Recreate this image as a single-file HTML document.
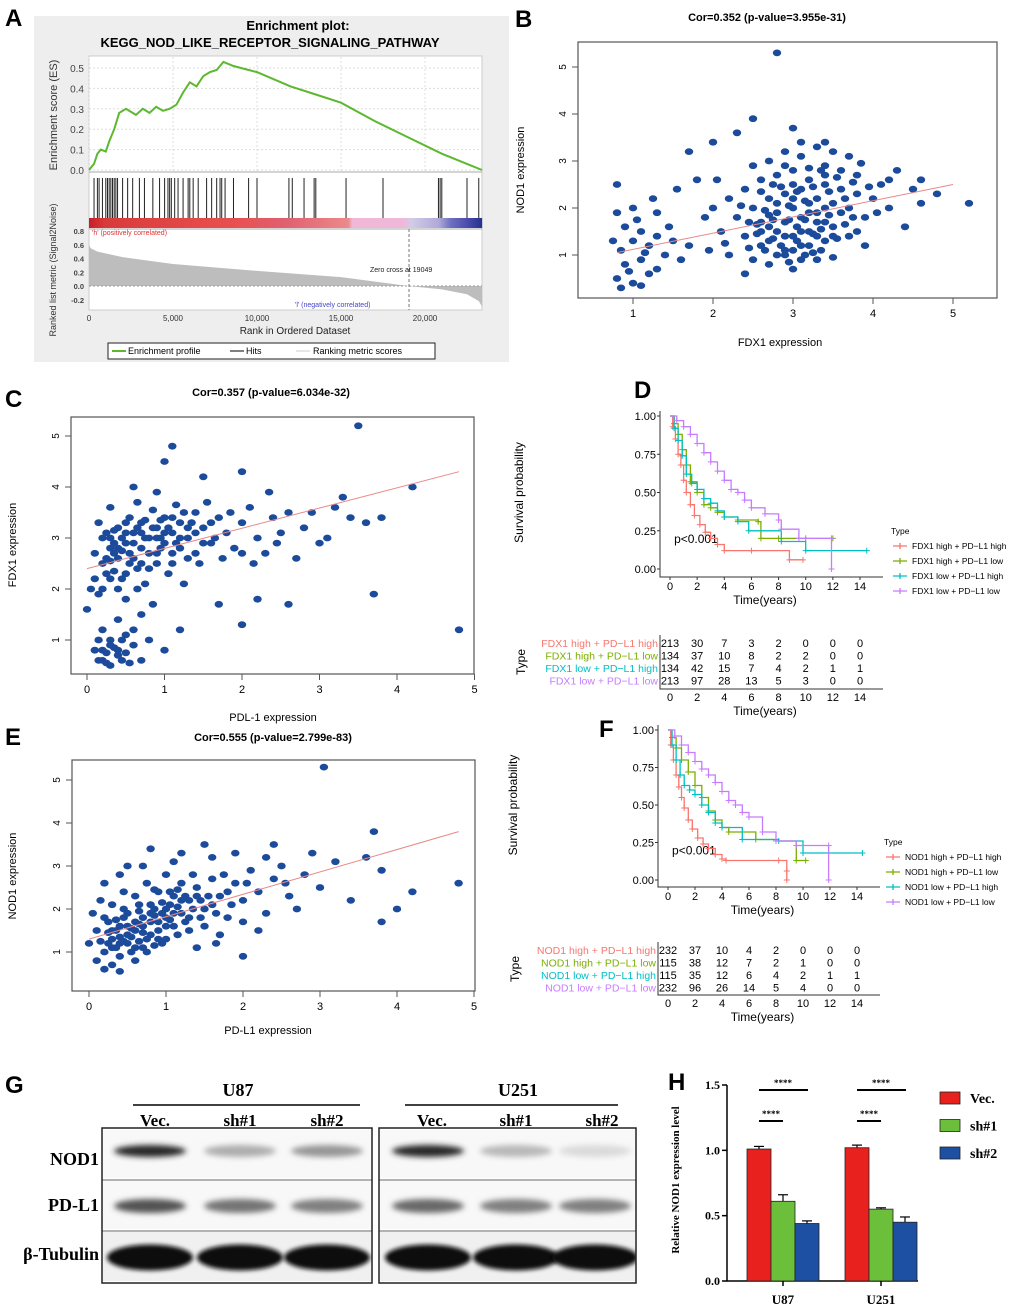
<!DOCTYPE html>
<html><head><meta charset="utf-8"><style>
html,body{margin:0;padding:0;background:#fff}
svg{display:block;font-family:"Liberation Sans",Arial,sans-serif}
.s{font-family:"Liberation Serif",serif;font-weight:bold}
</style></head><body>
<svg id="fig" width="1020" height="1309" viewBox="0 0 1020 1309" xmlns="http://www.w3.org/2000/svg">
<defs>
<filter id="blur2" x="-20%" y="-50%" width="140%" height="200%"><feGaussianBlur stdDeviation="2"/></filter>
<filter id="blur3" x="-20%" y="-80%" width="140%" height="260%"><feGaussianBlur stdDeviation="3"/></filter>
<clipPath id="clipU87"><rect x="102" y="1128" width="270" height="155"/></clipPath>
<clipPath id="clipU251"><rect x="379" y="1128" width="257" height="155"/></clipPath>
<linearGradient id="rankbar" x1="0" x2="1" y1="0" y2="0">
<stop offset="0" stop-color="#c81e2a"/><stop offset="0.04" stop-color="#d83a3a"/><stop offset="0.37" stop-color="#e85050"/><stop offset="0.5" stop-color="#e06070"/><stop offset="0.66" stop-color="#ec8a8a"/><stop offset="0.67" stop-color="#f0b8d6"/><stop offset="0.8" stop-color="#f0b8d8"/><stop offset="0.82" stop-color="#d0cce8"/><stop offset="0.89" stop-color="#b0a8d8"/><stop offset="0.92" stop-color="#6f70c0"/><stop offset="0.97" stop-color="#4545a8"/><stop offset="1" stop-color="#23308e"/>
</linearGradient>
</defs>
<g font-weight="bold" font-size="24">
<text x="5" y="26">A</text>
<text x="515" y="27">B</text>
<text x="5" y="407">C</text>
<text x="634" y="398">D</text>
<text x="5" y="745">E</text>
<text x="599" y="737">F</text>
<text x="5" y="1093">G</text>
<text x="668" y="1090">H</text>
</g>
<g id="pA">
<rect x="34" y="16" width="475" height="346" fill="#eeeeee"/>
<text x="298" y="30" text-anchor="middle" font-weight="bold" font-size="13">Enrichment plot:</text>
<text x="270" y="47" text-anchor="middle" font-weight="bold" font-size="13">KEGG_NOD_LIKE_RECEPTOR_SIGNALING_PATHWAY</text>
<rect x="89" y="56" width="393" height="254" fill="#fff" stroke="#ccc"/>
<text transform="translate(57,115) rotate(-90)" text-anchor="middle" font-size="11" fill="#333">Enrichment score (ES)</text>
<text transform="translate(56,270) rotate(-90)" text-anchor="middle" font-size="9" fill="#333">Ranked list metric (Signal2Noise)</text>
<text x="295" y="334" text-anchor="middle" font-size="10" fill="#222">Rank in Ordered Dataset</text>
<text x="92" y="235" font-size="7" fill="#d33">'h' (positively correlated)</text>
<text x="295" y="307" font-size="7" fill="#44c">'l' (negatively correlated)</text>
<text x="370" y="272" font-size="7" fill="#222">Zero cross at 19049</text>
<rect x="108" y="343" width="327" height="16" fill="#fff" stroke="#222"/>
<line x1="112" y1="351" x2="126" y2="351" stroke="#5cb82e" stroke-width="2"/>
<text x="128" y="354" font-size="9">Enrichment profile</text>
<line x1="230" y1="351" x2="244" y2="351" stroke="#555" stroke-width="1.5"/>
<text x="246" y="354" font-size="9">Hits</text>
<line x1="296" y1="351" x2="310" y2="351" stroke="#ddd" stroke-width="1.5"/>
<text x="313" y="354" font-size="9">Ranking metric scores</text>
</g>
<g font-size="11">
<text x="767" y="21" text-anchor="middle" font-weight="bold">Cor=0.352 (p-value=3.955e-31)</text>
<text x="780" y="346" text-anchor="middle">FDX1 expression</text>
<text transform="translate(524,170) rotate(-90)" text-anchor="middle">NOD1 expression</text>
<text x="271" y="396" text-anchor="middle" font-weight="bold">Cor=0.357 (p-value=6.034e-32)</text>
<text x="273" y="721" text-anchor="middle">PDL-1 expression</text>
<text transform="translate(16,545) rotate(-90)" text-anchor="middle">FDX1 expression</text>
<text x="273" y="741" text-anchor="middle" font-weight="bold">Cor=0.555 (p-value=2.799e-83)</text>
<text x="268" y="1034" text-anchor="middle">PD-L1 expression</text>
<text transform="translate(16,876) rotate(-90)" text-anchor="middle">NOD1 expression</text>
</g>
<g id="pB"></g>
<g id="pC"></g>
<g id="pE"></g>
<g id="pD"></g>
<g id="pF"></g>
<g id="pG" class="s">
<text x="238" y="1096" text-anchor="middle" font-size="18">U87</text>
<line x1="133" y1="1105" x2="360" y2="1105" stroke="#000" stroke-width="1.5"/>
<text x="518" y="1096" text-anchor="middle" font-size="18">U251</text>
<line x1="405" y1="1105" x2="618" y2="1105" stroke="#000" stroke-width="1.5"/>
<g font-size="17" text-anchor="middle">
<text x="155" y="1126">Vec.</text>
<text x="240" y="1126">sh#1</text>
<text x="327" y="1126">sh#2</text>
<text x="432" y="1126">Vec.</text>
<text x="516" y="1126">sh#1</text>
<text x="602" y="1126">sh#2</text>
</g>
<g font-size="18" text-anchor="end">
<text x="99" y="1165">NOD1</text>
<text x="99" y="1211">PD-L1</text>
<text x="99" y="1260">β-Tubulin</text>
</g>
</g>
<g id="pH" class="s">
<text transform="translate(679,1180) rotate(-90)" text-anchor="middle" font-size="11">Relative NOD1 expression level</text>
</g>
</svg>
<script>
// ---------- DATA ----------
const gseaRank=[0,0.3,0.5,0.7,1.0,1.2,1.5,1.8,2.2,2.8,3.2,3.6,4.0,4.4,4.8,5.2,5.6,6.0,6.4,6.8,7.2,7.6,8.0,8.6,9.5,10,12,13.5,15,17,19,21,22.5,23.4];
const gseaES=[0,0.03,0.08,0.1,0.09,0.14,0.2,0.28,0.3,0.27,0.3,0.28,0.31,0.29,0.3,0.32,0.38,0.43,0.41,0.46,0.48,0.49,0.53,0.51,0.49,0.48,0.41,0.37,0.33,0.24,0.16,0.08,0.03,0];
const gseaHits=[0.3,0.5,0.6,0.8,1.0,1.1,1.2,1.3,1.4,1.5,1.6,1.7,2.0,2.3,2.6,3.0,3.3,3.8,4.2,4.5,4.7,4.8,4.9,5.1,5.3,5.6,5.9,6.0,6.2,6.5,7.0,7.3,7.6,7.8,7.9,8.1,8.6,9.5,10.0,11.9,12.1,12.8,13.4,13.5,15.3,17.5,20.8,20.9,21.0,22.5,23.2];
const metricRank=[0,0.1,0.5,2,5,10,15,19,21,22.5,23.2,23.4];
const metricVal=[0.6,0.55,0.5,0.42,0.32,0.22,0.13,0.0,-0.05,-0.12,-0.22,-0.3];
const esTicks=[0,0.1,0.2,0.3,0.4,0.5];
const metricTicks=[-0.2,0,0.2,0.4,0.6,0.8];
const rankTicks=[0,5000,10000,15000,20000];

const ptsB=[[0.8,0.5],[0.9,0.8],[1.0,0.4],[1.1,0.9],[0.85,1.1],[1.2,1.2],[1.3,0.7],[1.0,1.3],[0.9,1.6],[1.1,1.5],[1.3,1.4],[1.4,1.0],[1.2,0.6],[0.8,1.9],[1.0,2.0],[1.5,1.3],[1.6,0.9],[1.3,1.9],[0.95,0.65],[1.15,1.05],[0.75,1.3],[1.05,1.75],[1.45,1.6],[1.25,2.2],[0.8,2.5],[1.7,1.2],[1.55,2.4],[0.85,0.3],[1.1,0.35],
[2.2,1.0],[2.4,1.4],[2.5,0.9],[2.6,1.2],[2.7,1.6],[2.8,1.0],[2.9,1.4],[3.0,1.1],[3.1,1.5],[3.2,1.2],[3.3,1.7],[3.4,1.3],[3.5,1.6],[3.6,1.9],[2.3,1.8],[2.5,2.0],[2.6,1.7],[2.7,2.2],[2.8,1.9],[2.9,2.3],[3.0,2.0],[3.1,2.4],[3.2,1.9],[3.3,2.2],[3.4,2.5],[3.5,2.1],[3.6,2.4],[3.7,2.0],[3.8,2.3],[2.4,2.4],[2.6,2.6],[2.8,2.7],[3.0,2.8],[3.2,2.6],[3.4,2.9],[3.6,2.8],[3.8,2.7],[2.7,3.0],[2.9,3.2],[3.1,3.1],[3.3,3.3],[3.5,3.2],[3.7,3.1],[2.5,2.9],[2.2,2.2],[2.1,1.5],[2.0,2.0],[3.9,1.8],[4.0,2.2],[4.1,2.5],[4.2,2.0],[4.3,2.8],[4.5,2.4],[4.4,1.6],[3.9,1.2],[3.8,1.5],[3.7,1.4],[4.6,2.1],[4.8,2.3],[5.2,2.1],[2.0,3.4],[1.8,2.6],[1.7,3.2],[2.3,3.6],[2.5,3.9],[3.0,3.7],[2.8,5.3],[2.4,0.6],[3.0,0.7],[3.3,0.9],[2.95,1.75],[3.15,2.15],[2.85,2.45],[3.05,1.3],[3.25,2.45],[2.75,1.35],[3.45,1.85],[2.65,1.95],[3.55,2.65],[3.35,1.55],[2.55,1.45],[3.65,1.65],[2.45,1.15],[3.75,2.55],[3.85,2.95],[2.35,2.05],[2.15,1.25],[3.95,2.45],[4.05,1.9],[2.05,2.6],[1.9,1.8],[1.95,1.1],
[2.9,1.0],[3.1,0.9],[2.85,1.2],[3.05,1.6],[2.95,2.05],[3.15,1.75],[3.25,1.45],[2.75,1.75],[2.65,1.1],[3.35,1.1],[3.45,2.35],[3.55,1.35],[2.6,2.35],[3.0,2.5],[3.2,2.85],[3.4,2.7],[2.9,2.9],[3.65,2.2],[3.75,1.8],[2.45,1.7],[3.1,3.4],[3.4,3.4],[2.7,0.8],[3.5,0.95],[4.2,2.6],[4.6,2.6],
[2.7,1.3],[2.8,1.5],[2.9,1.7],[3.0,1.4],[3.1,1.2],[3.2,1.5],[3.3,1.4],[2.8,2.1],[3.0,2.2],[3.2,2.1],[3.4,2.0],[2.9,1.1],[3.1,1.8],[3.3,1.9],[2.6,1.5],[3.4,1.7],[2.7,1.85],[3.05,2.35],[3.25,1.05],[2.95,0.85],[3.15,1.0],[2.55,1.65],[3.5,1.4],[2.75,2.5],[3.35,2.8]];
const lineB=[0.8,5.0]; const lineBy=[1.05,2.5];

const ptsC=[[0.0,1.6],[0.1,2.2],[0.1,2.7],[0.2,3.0],[0.2,2.5],[0.3,2.8],[0.3,2.2],[0.4,3.2],[0.4,2.6],[0.5,2.9],[0.5,2.3],[0.6,3.1],[0.6,2.6],[0.7,3.3],[0.7,2.8],[0.8,3.0],[0.8,2.4],[0.9,3.2],[0.9,2.7],[1.0,3.4],[1.0,2.9],[1.1,3.1],[1.1,2.5],[1.2,3.3],[1.2,2.8],[1.3,3.0],[1.4,3.5],[1.4,2.7],[1.5,3.2],[1.6,2.9],[1.7,3.4],[1.8,3.1],[1.9,2.8],[2.0,3.3],[2.1,3.6],[2.2,3.0],[2.3,2.7],[2.4,3.4],[2.5,3.1],[2.6,3.5],[2.8,3.2],[3.0,2.9],[3.2,3.6],[3.4,3.4],[3.6,3.3],[3.8,3.4],[4.2,4.0],[3.5,5.2],[3.7,1.9],[4.8,1.2],[3.3,3.8],[2.0,4.3],[1.1,4.8],[0.6,4.0],[0.3,3.6],[0.9,3.9],[1.5,4.2],[1.0,4.5],[0.5,1.8],[0.2,1.2],[0.1,0.8],[0.2,0.6],[0.3,1.0],[0.4,0.7],[0.5,1.1],[0.4,1.4],[0.6,0.9],[0.7,0.6],[0.8,1.0],[0.3,0.5],[0.15,1.0],[0.55,0.55],[0.45,1.0],[1.0,0.8],[1.2,1.2],[0.85,3.55],[0.65,2.0],[0.35,2.35],[0.15,3.3],[0.05,2.0],[1.25,2.1],[1.05,2.3],[0.75,2.1],[1.15,3.65],[0.95,3.0],[0.45,2.75],[0.25,2.6],[0.55,3.4],[1.35,3.3],[1.45,2.5],[1.65,3.0],[1.75,2.6],[1.85,3.5],[2.15,2.5],[2.45,2.9],[2.7,2.6],[2.9,3.5],[3.1,3.0],[0.7,1.5],[0.85,1.7],[0.15,1.9],[0.65,3.7],[0.35,3.15],[1.55,3.7],[2.35,3.9],
[0.25,3.1],[0.35,2.9],[0.45,3.0],[0.55,2.7],[0.65,3.2],[0.75,3.0],[0.85,3.2],[0.95,2.8],[1.05,3.2],[1.15,2.9],[1.25,3.5],[0.3,2.55],[0.5,3.3],[0.7,2.5],[0.9,2.5],[1.1,3.4],[0.4,2.0],[0.2,2.0],[0.25,0.75],[0.35,0.85],[0.45,0.6],[0.15,0.6],[0.6,1.2],[1.6,3.3],[1.3,2.6],[2.0,2.7],[2.2,1.8],[1.7,1.7],[2.0,1.3],[2.6,1.7],
[0.3,3.0],[0.4,2.8],[0.5,3.1],[0.6,2.9],[0.7,3.1],[0.8,2.7],[0.9,3.0],[1.0,3.1],[1.1,2.7],[1.2,3.0],[0.35,2.7],[0.55,2.5],[0.75,3.35],[0.95,3.35],[1.3,3.2],[0.25,2.3],[0.45,2.2],[0.65,2.4],[0.2,0.8],[0.3,0.9],[0.4,0.8],[0.5,0.75],[0.25,0.55],[1.4,3.1],[1.5,2.9]];
const lineC=[0,4.8]; const lineCy=[2.4,4.3];

const ptsE=[[0.0,1.2],[0.1,1.5],[0.2,1.0],[0.2,1.8],[0.3,1.3],[0.3,2.1],[0.4,1.6],[0.4,0.9],[0.5,1.9],[0.5,1.2],[0.6,2.3],[0.6,1.5],[0.7,1.8],[0.7,1.1],[0.8,2.1],[0.8,1.4],[0.9,2.4],[0.9,1.7],[1.0,2.0],[1.0,1.3],[1.1,2.3],[1.1,1.6],[1.2,2.6],[1.2,1.9],[1.3,2.2],[1.3,1.5],[1.4,2.5],[1.5,2.0],[1.6,2.7],[1.7,2.3],[1.8,1.8],[1.9,2.6],[2.0,2.2],[2.1,2.9],[2.2,2.4],[2.3,1.9],[2.4,2.7],[2.5,3.0],[2.6,2.3],[2.8,2.8],[3.0,2.5],[3.2,3.1],[3.4,2.2],[3.6,3.2],[3.8,2.9],[4.2,2.4],[4.8,2.6],[4.0,2.0],[3.05,5.3],[3.7,3.8],[3.8,1.7],[0.5,3.0],[0.8,3.4],[1.1,3.1],[1.5,3.5],[1.9,3.3],[2.3,3.2],[0.2,2.6],[0.1,0.8],[0.3,0.7],[0.6,0.8],[1.4,1.1],[1.7,1.4],[0.15,2.2],[0.35,1.75],[0.45,2.4],[0.55,1.55],[0.65,1.95],[0.75,2.6],[0.85,1.85],[0.95,2.15],[1.05,1.75],[1.15,2.45],[1.25,1.7],[1.35,2.8],[1.45,1.8],[1.55,2.3],[1.65,1.9],[1.75,2.8],[0.25,1.45],[0.45,1.25],[0.65,1.25],[0.85,1.15],[1.0,2.8],[1.2,3.3],[2.0,1.7],[2.2,1.5],[2.7,2.0],[2.9,3.3],[0.4,2.8],[0.05,1.9],[2.05,2.6],[2.55,2.6],[1.85,2.1],[0.7,3.0],[1.6,3.2],[2.4,3.5],
[0.3,1.1],[0.4,1.35],[0.5,1.6],[0.6,1.1],[0.7,1.45],[0.8,1.7],[0.9,1.3],[1.0,1.6],[0.35,1.5],[0.55,1.35],[0.75,1.3],[0.95,1.9],[1.15,2.05],[0.25,1.7],[0.45,1.8],[0.65,1.65],[1.05,2.4],[1.25,2.3],[0.2,0.6],[0.4,0.55],[0.15,1.25],[1.45,2.2],[1.35,2.0],[0.85,2.45],[2.0,0.9],[1.65,1.2],
[0.3,1.5],[0.4,1.2],[0.5,1.4],[0.6,1.7],[0.7,1.6],[0.8,1.9],[0.9,1.5],[1.0,1.8],[1.1,1.9],[0.35,1.1],[0.55,1.0],[0.75,1.0],[0.45,2.0],[0.65,2.1],[0.85,2.0],[1.05,2.1],[1.2,2.2],[1.3,1.8],[0.25,1.2],[0.95,1.2],[1.15,1.4],[1.4,2.3],[1.5,1.6],[1.6,2.1],[1.8,2.4]];
const lineE=[0,4.8]; const lineEy=[1.3,3.8];

const kmNamesD=["FDX1 high + PD\u2212L1 high","FDX1 high + PD\u2212L1 low","FDX1 low + PD\u2212L1 high","FDX1 low + PD\u2212L1 low"];
const kmD_t=[[0,0.2,0.4,0.6,0.8,1.0,1.2,1.5,1.8,2.2,2.6,3.0,3.5,4.0,6,8.8,9.8],
[0,0.3,0.6,0.9,1.2,1.5,2.0,2.5,3.0,3.5,4.0,5,6.5,6.7,8,10,12],
[0,0.3,0.6,0.9,1.2,1.6,2.0,2.5,3.0,3.5,4.0,5.0,5.8,8.2,10.0,14.5],
[0,0.5,1,1.5,2,2.5,3,3.5,4,4.5,5,5.5,6,7,8,8.2,9.5,11.9,11.9]];
const kmD_s=[[1,0.93,0.85,0.75,0.68,0.58,0.5,0.42,0.35,0.29,0.24,0.2,0.16,0.12,0.12,0.06,0.06],
[1,0.95,0.88,0.78,0.68,0.57,0.5,0.42,0.4,0.37,0.34,0.32,0.31,0.2,0.2,0.2,0.2],
[1,0.92,0.84,0.74,0.62,0.56,0.52,0.46,0.43,0.38,0.34,0.31,0.25,0.18,0.12,0.12],
[1,0.97,0.93,0.88,0.82,0.76,0.7,0.64,0.58,0.52,0.5,0.45,0.4,0.36,0.32,0.26,0.2,0.2,0]];
const riskD=[[213,30,7,3,2,0,0,0],[134,37,10,8,2,2,0,0],[134,42,15,7,4,2,1,1],[213,97,28,13,5,3,0,0]];
const kmNamesF=["NOD1 high + PD\u2212L1 high","NOD1 high + PD\u2212L1 low","NOD1 low + PD\u2212L1 high","NOD1 low + PD\u2212L1 low"];
const kmF_t=[[0,0.2,0.4,0.6,0.8,1.0,1.2,1.5,1.8,2.2,2.6,3.0,3.5,4.0,4.3,8.2,8.8,8.8],
[0,0.3,0.6,1.0,1.5,2.0,2.5,3.0,3.5,4.0,4.5,6.5,8,9.5,10.2],
[0,0.3,0.6,0.9,1.2,1.6,2.0,2.5,3.0,3.5,4.0,5.5,8.2,10.0,14.4],
[0,0.5,1,1.5,2,2.5,3,3.5,4,4.5,5,5.5,6,7,8,9.5,11.9,11.9]];
const kmF_s=[[1,0.9,0.8,0.7,0.62,0.55,0.48,0.4,0.34,0.28,0.24,0.21,0.17,0.14,0.13,0.13,0.06,0.0],
[1,0.95,0.88,0.8,0.72,0.63,0.55,0.46,0.4,0.35,0.32,0.27,0.26,0.13,0.13],
[1,0.9,0.8,0.7,0.63,0.6,0.57,0.5,0.45,0.38,0.35,0.27,0.26,0.18,0.18],
[1,0.96,0.9,0.85,0.79,0.74,0.7,0.65,0.59,0.53,0.5,0.45,0.42,0.32,0.26,0.23,0.23,0]];
const riskF=[[232,37,10,4,2,0,0,0],[115,38,12,7,2,1,0,0],[115,35,12,6,4,2,1,1],[232,96,26,14,5,4,0,0]];
const kmTicksX=[0,2,4,6,8,10,12,14];
const kmTicksY=[0,0.25,0.5,0.75,1.0];
const kmTickLabY=["0.00","0.25","0.50","0.75","1.00"];
const barGroups=["U87","U251"];
const barSeries=["Vec.","sh#1","sh#2"];
const barVals=[[1.01,0.61,0.44],[1.02,0.55,0.45]];
const barErr=[[0.02,0.05,0.02],[0.02,0.01,0.04]];
const barTicks=[0,0.5,1.0,1.5];
const blotRows=["NOD1","PD-L1","Tubulin"];
const blotU87=[[0.9,0.3,0.4],[0.7,0.55,0.5],[1,1,1]];
const blotU251=[[0.9,0.25,0.1],[0.6,0.5,0.5],[1,1,1]];

const NS="http://www.w3.org/2000/svg";
function mk(parent,tag,attrs,txt){const e=document.createElementNS(NS,tag);for(const k in attrs)e.setAttribute(k,attrs[k]);if(txt!==undefined)e.textContent=txt;parent.appendChild(e);return e;}
function lin(d0,d1,r0,r1){return v=>r0+(v-d0)/(d1-d0)*(r1-r0);}
const kmColors=["#f8766d","#7cae00","#00bfc4","#c77cff"];

(function(){
const g=document.getElementById('pA');
const X=lin(0,10000,89,257);
const Yes=lin(0,0.5,170,68);
const Ym=lin(0,0.8,286,231);
esTicks.forEach(t=>{const l=mk(g,'line',{x1:89,x2:482,y1:Yes(t),y2:Yes(t),stroke:'#ddd','stroke-dasharray':'2,2'});

const tx=mk(g,'text',{x:84,y:Yes(t)+4,'text-anchor':'end','font-size':10,fill:'#444'},t.toFixed(1));
});
rankTicks.forEach(t=>{const l=mk(g,'line',{x1:X(t),x2:X(t),y1:57,y2:172,stroke:'#ddd','stroke-dasharray':'2,2'});

const tx=mk(g,'text',{x:X(t),y:321,'text-anchor':'middle','font-size':8,fill:'#333'},t===0?'0':t.toLocaleString('en-US'));
});
metricTicks.forEach(t=>{const tx=mk(g,'text',{x:84,y:Ym(t)+3,'text-anchor':'end','font-size':7.5,'font-weight':'bold',fill:'#444'},t.toFixed(1));
});
const sep1=mk(g,'line',{x1:89,x2:482,y1:172,y2:172,stroke:'#aaa'});
const sep2=mk(g,'line',{x1:89,x2:482,y1:229,y2:229,stroke:'#aaa'});
let d=gseaRank.map((r,i)=>(i?'L':'M')+X(r*1000).toFixed(1)+','+Yes(gseaES[i]).toFixed(1)).join('');
const es=mk(g,'path',{d:d,fill:'none',stroke:'#5cb82e','stroke-width':2});

gseaHits.forEach(h=>{const l=mk(g,'line',{x1:X(h*1000),x2:X(h*1000),y1:178,y2:218,stroke:'#222','stroke-width':1});
});
const bar=mk(g,'rect',{x:89,y:218,width:X(23400)-89,height:10,fill:'url(#rankbar)'});

let m='M'+X(0)+','+Ym(0)+metricRank.map((r,i)=>'L'+X(r*1000).toFixed(1)+','+Ym(metricVal[i]).toFixed(1)).join('')+'L'+X(23400)+','+Ym(0)+'Z';
const mp=mk(g,'path',{d:m,fill:'#bdbdbd'});

const z=mk(g,'line',{x1:89,x2:482,y1:Ym(0),y2:Ym(0),stroke:'#999','stroke-dasharray':'2,2'});
const zc=mk(g,'line',{x1:X(19049),x2:X(19049),y1:229,y2:310,stroke:'#777','stroke-dasharray':'3,2'});
})();

function scatter(id,pts,lx,ly,box,xd,yd,xt,yt){
const g=document.getElementById(id);
const X=lin(xd[0],xd[1],xd[2],xd[3]);const Y=lin(yd[0],yd[1],yd[2],yd[3]);
const fr=mk(g,'rect',{x:box[0],y:box[1],width:box[2]-box[0],height:box[3]-box[1],fill:'none',stroke:'#555','stroke-width':1.2});

xt.forEach(t=>{const l=mk(g,'line',{x1:X(t),x2:X(t),y1:box[3],y2:box[3]+6,stroke:'#555'});

const tx=mk(g,'text',{x:X(t),y:box[3]+19,'text-anchor':'middle','font-size':11},String(t));
});
yt.forEach(t=>{const l=mk(g,'line',{x1:box[0]-6,x2:box[0],y1:Y(t),y2:Y(t),stroke:'#555'});

const tx=mk(g,'text',{transform:`translate(${box[0]-12},${Y(t)}) rotate(-90)`,'text-anchor':'middle','font-size':10},String(t));
});
pts.forEach(p=>{const c=mk(g,'ellipse',{cx:X(p[0]).toFixed(1),cy:Y(p[1]).toFixed(1),rx:4.2,ry:3.4,fill:'#1c4b9b'});
});
const rl=mk(g,'line',{x1:X(lx[0]),y1:Y(ly[0]),x2:X(lx[1]),y2:Y(ly[1]),stroke:'#e88888','stroke-width':1});

}
scatter('pB',ptsB,lineB,lineBy,[578,42,997,298],[1,2,633,713],[1,2,255,208],[1,2,3,4,5],[1,2,3,4,5]);
scatter('pC',ptsC,lineC,lineCy,[71,417,474,674],[0,1,87,164.5],[1,2,640,589],[0,1,2,3,4,5],[1,2,3,4,5]);
scatter('pE',ptsE,lineE,lineEy,[72,760,475,991],[0,1,89,166],[1,2,952,909],[0,1,2,3,4,5],[1,2,3,4,5]);

function km(id,ts,ss,names,risk,o){
const g=document.getElementById(id);
const X=lin(0,14,o.x0,o.x14);const Y=lin(0,1,o.y0,o.y1);
const ax=mk(g,'path',{d:`M${o.x0-10},${o.y1-5}V${o.axY}H${o.x14+23}`,fill:'none',stroke:'#333','stroke-width':1});

kmTicksY.forEach((t,i)=>{const l=mk(g,'line',{x1:o.x0-13,x2:o.x0-10,y1:Y(t),y2:Y(t),stroke:'#333'});

const tx=mk(g,'text',{x:o.x0-14,y:Y(t)+4,'text-anchor':'end','font-size':11},kmTickLabY[i]);
});
kmTicksX.forEach(t=>{const l=mk(g,'line',{x1:X(t),x2:X(t),y1:o.axY,y2:o.axY+3,stroke:'#333'});

const tx=mk(g,'text',{x:X(t),y:o.axY+13,'text-anchor':'middle','font-size':11},String(t));
});
const xt=mk(g,'text',{x:X(7),y:o.axY+27,'text-anchor':'middle','font-size':12},'Time(years)');

const yt=mk(g,'text',{transform:`translate(${o.ylx},${(Y(0)+Y(1))/2}) rotate(-90)`,'text-anchor':'middle','font-size':12},'Survival probability');

const pv=mk(g,'text',{x:X(0.3),y:Y(0.17),'font-size':12},'p\u003C0.001');

ts.forEach((t,k)=>{let d='M'+X(t[0])+','+Y(ss[k][0]);
for(let i=1;i!==t.length;i++){d+='H'+X(t[i]).toFixed(1)+'V'+Y(ss[k][i]).toFixed(1);}
const p=mk(g,'path',{d:d,fill:'none',stroke:kmColors[k],'stroke-width':1.3});

for(let i=1;i!==t.length;i++){const cx=X(t[i]),cy=Y(ss[k][i]);
const c=mk(g,'path',{d:`M${cx-3},${cy}h6M${cx},${cy-3}v6`,stroke:kmColors[k],'stroke-width':1});
}
});
const lt=mk(g,'text',{x:o.lx,y:o.ly,'font-size':8.5},'Type');

names.forEach((n,k)=>{const y=o.ly+15+k*15;
const l=mk(g,'path',{d:`M${o.lx+2},${y-3}h14M${o.lx+9},${y-6}v6`,stroke:kmColors[k],'stroke-width':1.3});

const tx=mk(g,'text',{x:o.lx+21,y:y,'font-size':8.5},n);
});
const tax=mk(g,'path',{d:`M${o.x0-10},${o.r0-8}V${o.rAx}H${o.x14+23}`,fill:'none',stroke:'#333','stroke-width':1});

risk.forEach((row,k)=>{const y=o.r0+k*12.5+4;
const nl=mk(g,'text',{x:o.x0-12,y:y,'text-anchor':'end','font-size':10.5,fill:kmColors[k]},names[k]);

row.forEach((v,i)=>{const tx=mk(g,'text',{x:X(kmTicksX[i]),y:y,'text-anchor':'middle','font-size':11},String(v));
});});
kmTicksX.forEach(t=>{const tx=mk(g,'text',{x:X(t),y:o.rAx+12,'text-anchor':'middle','font-size':11},String(t));
});
const rt=mk(g,'text',{x:X(7),y:o.rAx+26,'text-anchor':'middle','font-size':12},'Time(years)');

const ty=mk(g,'text',{transform:`translate(${o.ylx+2},${o.r0+19}) rotate(-90)`,'text-anchor':'middle','font-size':12},'Type');

}
km('pD',kmD_t,kmD_s,kmNamesD,riskD,{x0:670,x14:860,y0:569,y1:416,axY:577,ylx:523,lx:891,ly:534,r0:643,rAx:689});
km('pF',kmF_t,kmF_s,kmNamesF,riskF,{x0:668,x14:857,y0:880,y1:730,axY:887,ylx:517,lx:884,ly:845,r0:950,rAx:995});

(function(){
const g=document.getElementById('pG');
const rowsY=[1130,1181,1232];const rowH=[50,50,51];
function blot(x0,x1,vals,lanes,tag,clip){
const f=mk(g,'rect',{x:x0,y:1128,width:x1-x0,height:155,fill:'#fff'});

const cg=mk(g,'g',{'clip-path':clip});

rowsY.forEach((y,r)=>{
const bg=mk(cg,'rect',{x:x0+1,y:y,width:x1-x0-2,height:rowH[r]-2,fill:r==2?'#f0f0f0':'#f8f8f8'});

vals[r].forEach((v,i)=>{const cx=lanes[i];
const dark=Math.round(240-v*225);
const e=mk(cg,'ellipse',{cx:cx,cy:y+rowH[r]/2-(r==0?4:0),rx:r==2?43:36,ry:r==2?13:(r==0?6:7),fill:`rgb(${dark},${dark},${dark})`,filter:r==2?'url(#blur2)':'url(#blur3)'});
});
if(r>0){const s=mk(cg,'line',{x1:x0,x2:x1,y1:y-1,y2:y-1,stroke:'#666','stroke-width':1});}
});
const fr=mk(g,'rect',{x:x0,y:1128,width:x1-x0,height:155,fill:'none',stroke:'#222','stroke-width':1.5});

}
blot(102,372,blotU87,[150,240,327],'u87','url(#clipU87)');
blot(379,636,blotU251,[428,516,595],'u251','url(#clipU251)');
})();

(function(){
const g=document.getElementById('pH');
const Y=lin(0,1.5,1281,1085);
const colors=["#e8211e","#6cbf3a","#1d4fa3"];
const gx=[747,845];const bw=24;
const ax=mk(g,'path',{d:'M727,1085V1281H918',fill:'none',stroke:'#000','stroke-width':1.5});

barTicks.forEach(t=>{const l=mk(g,'line',{x1:722,x2:727,y1:Y(t),y2:Y(t),stroke:'#000','stroke-width':1.5});

const tx=mk(g,'text',{x:720,y:Y(t)+4,'text-anchor':'end','font-size':12},t.toFixed(1));
});
barGroups.forEach((gn,gi)=>{
barVals[gi].forEach((v,si)=>{const x=gx[gi]+si*bw;
const e=mk(g,'line',{x1:x+bw/2,x2:x+bw/2,y1:Y(v),y2:Y(v+barErr[gi][si]),stroke:'#000','stroke-width':1.2});

const ec=mk(g,'line',{x1:x+bw/2-5,x2:x+bw/2+5,y1:Y(v+barErr[gi][si]),y2:Y(v+barErr[gi][si]),stroke:'#000','stroke-width':1.2});

const r=mk(g,'rect',{x:x,y:Y(v),width:bw,height:Y(0)-Y(v),fill:colors[si],stroke:'#222','stroke-width':0.8});
});
const cx=gx[gi]+bw*1.5;
const tk=mk(g,'line',{x1:cx,x2:cx,y1:1281,y2:1286,stroke:'#000','stroke-width':1.5});

const tx=mk(g,'text',{x:cx,y:1304,'text-anchor':'middle','font-size':13},gn);

const s1=mk(g,'line',{x1:gx[gi]+12,x2:gx[gi]+61,y1:1090,y2:1090,stroke:'#000','stroke-width':2});

const t1=mk(g,'text',{x:gx[gi]+36,y:1086,'text-anchor':'middle','font-size':9},'****');

const s2=mk(g,'line',{x1:gx[gi]+12,x2:gx[gi]+36,y1:1121,y2:1121,stroke:'#000','stroke-width':2});

const t2=mk(g,'text',{x:gx[gi]+24,y:1117,'text-anchor':'middle','font-size':9},'****');

});
barSeries.forEach((s,si)=>{const y=1092+si*27.5;
const r=mk(g,'rect',{x:940,y:y,width:20,height:12,fill:colors[si],stroke:'#222','stroke-width':0.8});

const tx=mk(g,'text',{x:970,y:y+11,'font-size':14},s);
});
})();
</script>
</body></html>
